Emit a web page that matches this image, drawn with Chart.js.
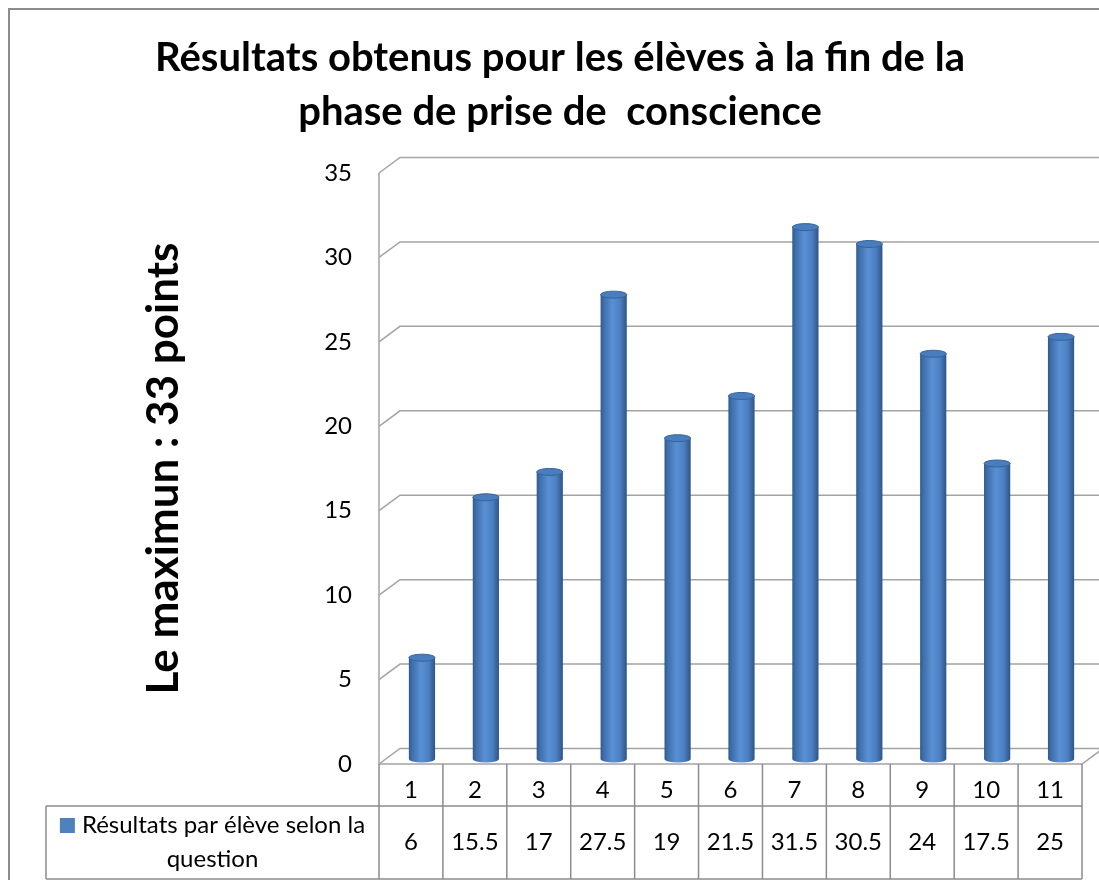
<!DOCTYPE html>
<html>
<head>
<meta charset="utf-8">
<script src="https://cdn.jsdelivr.net/npm/chart.js@4/dist/chart.umd.min.js"></script>
<style>
  body { margin: 0; background: #fff; }
</style>
</head>
<body>
<canvas id="chart" width="1099" height="880"></canvas>
<script>
// données
const eleves = ['1', '2', '3', '4', '5', '6', '7', '8', '9', '10', '11'];
const resultats = [6, 15.5, 17, 27.5, 19, 21.5, 31.5, 30.5, 24, 17.5, 25];
const graduations = [0, 5, 10, 15, 20, 25, 30, 35];
const serieNom = ['Résultats par élève selon la', 'question'];
const titre = ['Résultats obtenus pour les élèves à la fin de la', 'phase de prise de  conscience'];
const titreAxe = 'Le maximun : 33 points';

const POLICE = 'Lato';
const GRIS = '#8c8c8c';
// profondeur du mur du fond (effet 3D)
const DX = 21, DY = 15.5;
// les cylindres sont à mi-profondeur
const BAR_DX = 11, BAR_DY = -5;
const TABLE_LEFT = 46, ROW_SPLIT = 806, TABLE_BOTTOM = 879;

const decor3d = {
  id: 'decor3d',
  beforeDraw(chart) {
    const ctx = chart.ctx;
    ctx.save();
    ctx.strokeStyle = GRIS;
    ctx.lineWidth = 2;
    ctx.strokeRect(9, 9, 1200, 1000);
    ctx.restore();
  },
  beforeDatasetsDraw(chart) {
    const { ctx, chartArea: a, scales: { y } } = chart;
    ctx.save();
    ctx.strokeStyle = '#a3a3a3';
    ctx.lineWidth = 1.5;
    graduations.forEach(v => {
      const py = y.getPixelForValue(v);
      ctx.beginPath();
      ctx.moveTo(a.left, py);
      ctx.lineTo(a.left + DX, py - DY);
      ctx.lineTo(chart.width + 5, py - DY);
      ctx.stroke();
    });
    // bord avant du sol
    const y0 = y.getPixelForValue(0);
    ctx.beginPath();
    ctx.moveTo(a.left, y0);
    ctx.lineTo(a.right, y0);
    ctx.lineTo(a.right + DX, y0 - DY);
    ctx.stroke();
    // axe vertical
    ctx.beginPath();
    ctx.moveTo(a.left, y.getPixelForValue(35));
    ctx.lineTo(a.left, y0);
    ctx.stroke();
    ctx.restore();

    ctx.save();
    ctx.translate(BAR_DX, BAR_DY);
  },
  afterDatasetsDraw(chart) {
    const ctx = chart.ctx;
    const meta = chart.getDatasetMeta(0);
    meta.data.forEach(bar => {
      const { x, y, base, width } = bar.getProps(['x', 'y', 'base', 'width'], true);
      const r = width / 2;
      // fond arrondi
      ctx.beginPath();
      ctx.ellipse(x, base, r, 3.5, 0, 0, Math.PI);
      ctx.fillStyle = bar.options.backgroundColor;
      ctx.fill();
      // dessus
      ctx.beginPath();
      ctx.ellipse(x, y, r, 3.5, 0, 0, Math.PI * 2);
      ctx.fillStyle = '#4a7dbd';
      ctx.fill();
      ctx.strokeStyle = '#35649c';
      ctx.lineWidth = 1;
      ctx.stroke();
    });
    ctx.restore();
  },
  afterDraw(chart) {
    const { ctx, chartArea: a, scales: { x, y } } = chart;
    const y0 = y.getPixelForValue(0);
    const pas = x.getPixelForValue(1) - x.getPixelForValue(0);
    ctx.save();
    ctx.strokeStyle = GRIS;
    ctx.lineWidth = 1.5;
    ctx.beginPath();
    for (let i = 0; i <= eleves.length; i++) {
      const px = x.getPixelForValue(0) - pas / 2 + i * pas;
      ctx.moveTo(px, y0);
      ctx.lineTo(px, TABLE_BOTTOM);
    }
    ctx.moveTo(TABLE_LEFT, ROW_SPLIT);
    ctx.lineTo(a.right, ROW_SPLIT);
    ctx.moveTo(TABLE_LEFT, TABLE_BOTTOM);
    ctx.lineTo(a.right, TABLE_BOTTOM);
    ctx.moveTo(TABLE_LEFT, ROW_SPLIT);
    ctx.lineTo(TABLE_LEFT, TABLE_BOTTOM);
    ctx.stroke();

    // valeurs
    ctx.fillStyle = '#000';
    ctx.font = '24px ' + POLICE;
    ctx.textAlign = 'center';
    ctx.textBaseline = 'middle';
    resultats.forEach((v, i) => {
      ctx.fillText(String(v), x.getPixelForValue(i), 842);
    });

    // en-tête de la série avec sa marque
    const cx = (TABLE_LEFT + a.left) / 2;
    const w = ctx.measureText(serieNom[0]).width;
    const start = cx - (15 + 7 + w) / 2;
    ctx.fillStyle = '#4f81bd';
    ctx.fillRect(start, 818, 15, 15);
    ctx.fillStyle = '#000';
    ctx.textAlign = 'left';
    ctx.fillText(serieNom[0], start + 22, 825);
    ctx.textAlign = 'center';
    ctx.fillText(serieNom[1], cx, 859);
    ctx.restore();
  }
};

new Chart(document.getElementById('chart'), {
  type: 'bar',
  data: {
    labels: eleves,
    datasets: [{
      label: serieNom.join(' '),
      data: resultats,
      barPercentage: 0.41,
      categoryPercentage: 1,
      borderWidth: 0,
      backgroundColor(c) {
        const chart = c.chart;
        const xs = chart.scales.x;
        if (!chart.chartArea || !xs || c.dataIndex === undefined) return '#4f81bd';
        const cx = xs.getPixelForValue(c.dataIndex);
        const g = chart.ctx.createLinearGradient(cx - 13, 0, cx + 13, 0);
        g.addColorStop(0, '#2f5b8f');
        g.addColorStop(0.12, '#3f6fab');
        g.addColorStop(0.45, '#5a8fd1');
        g.addColorStop(0.75, '#4b80c2');
        g.addColorStop(1, '#2d5688');
        return g;
      }
    }]
  },
  options: {
    responsive: false,
    animation: false,
    layout: { padding: { left: 38, right: 17, top: 0, bottom: 0 } },
    plugins: {
      legend: { display: false },
      tooltip: { enabled: false },
      title: {
        display: true,
        text: titre,
        color: '#000',
        font: { family: POLICE, size: 40, weight: 'bold', lineHeight: 54 / 40 },
        padding: { top: 31, bottom: 34 }
      }
    },
    scales: {
      x: {
        grid: { display: false, drawTicks: false },
        border: { display: false },
        ticks: { color: '#000', font: { family: POLICE, size: 24 }, padding: 12 },
        afterFit(s) { s.height = 116; }
      },
      y: {
        min: 0,
        max: 35,
        grid: { display: false, drawTicks: false },
        border: { display: false },
        ticks: {
          stepSize: 5,
          color: '#000',
          font: { family: POLICE, size: 24 },
          padding: 27
        },
        title: {
          display: true,
          text: titreAxe,
          color: '#000',
          font: { family: POLICE, size: 44, weight: 'bold' },
          padding: { top: 99 }
        },
        afterFit(s) { s.width = 341; }
      }
    }
  },
  plugins: [decor3d]
});
</script>
</body>
</html>
